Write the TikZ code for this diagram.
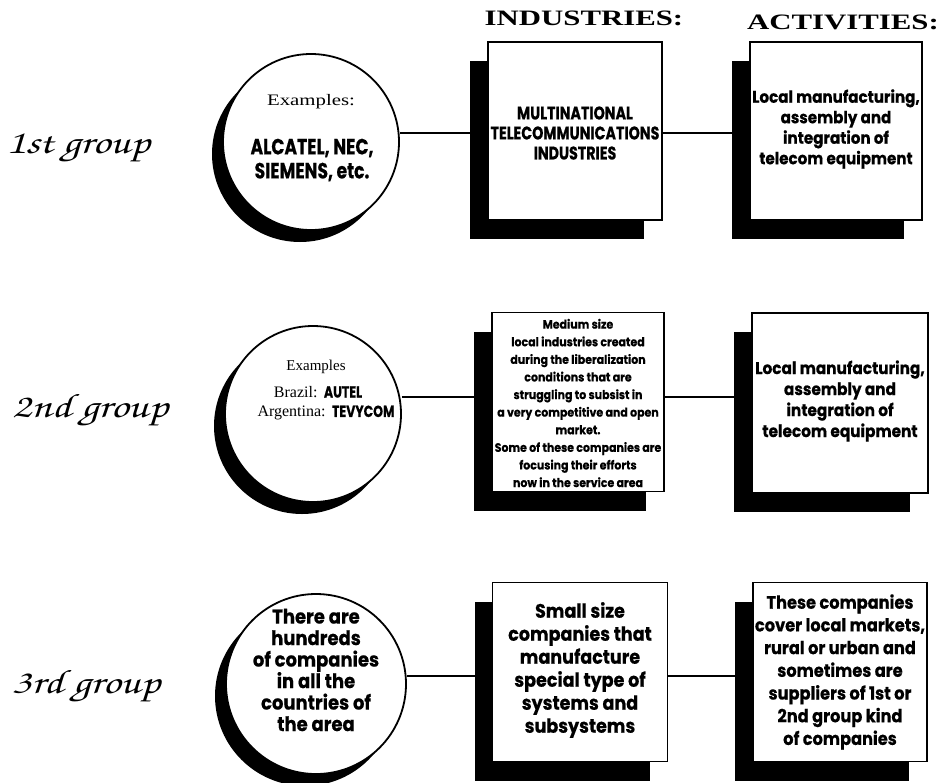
\documentclass[tikz,border=0pt]{standalone}
\usepackage{fontspec}
\usetikzlibrary{shadows}
\newfontfamily\cf[FakeStretch=0.78, BoldFeatures={FakeBold=0.5}]{Poppins}
\newfontfamily\cw[FakeStretch=0.9, BoldFeatures={FakeBold=0.5}]{Poppins}
\newfontfamily\lf{Liberation Serif}
\newfontfamily\lw[FakeStretch=1.3]{Liberation Serif}
\newfontfamily\hf[FakeStretch=1.4]{Liberation Serif}
\newfontfamily\gf[FakeStretch=1.3]{TeX Gyre Chorus}
\begin{document}
\begin{tikzpicture}[x=1pt,y=-1pt,
  conn/.style={line width=1.8pt},
  boxnode/.style={draw, line width=1.8pt, fill=white, inner sep=0pt, align=center,
    minimum width=174pt, minimum height=178pt,
    drop shadow={shadow xshift=-18pt, shadow yshift=-19pt, fill=black, opacity=1}},
  circnode/.style={circle, draw, line width=1.8pt, fill=white, minimum size=176pt, inner sep=0pt,
    drop shadow={shadow xshift=-11pt, shadow yshift=-12pt, fill=black, opacity=1}},
  lbl/.style={inner sep=0pt, align=center},
  grp/.style={inner sep=0pt, font=\gf\fontsize{34}{34}\selectfont},
  hdr/.style={inner sep=0pt, font=\hf\bfseries\fontsize{22}{22}\selectfont}
]
\useasboundingbox (0,0) rectangle (940,782);

% headers
\node[hdr] (hind) at (584,18) {INDUSTRIES:};
\node[hdr] (hact) at (843,22) {ACTIVITIES:};

% group labels
\node[grp] (g1) at (78,148) {1st group};
\node[grp] (g2) at (90,410) {2nd group};
\node[grp] (g3) at (86,686) {3rd group};

% row 1
\node[circnode] (c1) at (311,142) {};
\node[boxnode] (b1) at (575,131) {};
\node[boxnode, minimum width=172pt] (a1) at (836,131) {};
\node[lbl, font=\lw\fontsize{16}{16}\selectfont] (t1a) at (311,102) {Examples:};
\node[lbl, font=\cf\bfseries\fontsize{22}{24}\selectfont] (t1b) at (312,160) {ALCATEL, NEC,\\SIEMENS, etc.};
\node[lbl, font=\cf\bfseries\fontsize{18.3}{20}\selectfont] (t1c) at (575,133) {MULTINATIONAL\\TELECOMMUNICATIONS\\INDUSTRIES};
\node[lbl, font=\cw\bfseries\fontsize{16.8}{20.5}\selectfont] (t1d) at (836,129) {Local manufacturing,\\assembly and\\integration of\\telecom equipment};

% row 2
\node[circnode] (c2) at (313,414) {};
\node[boxnode, minimum width=172pt, minimum height=179pt] (b2) at (578,402) {};
\node[boxnode, minimum width=176pt, minimum height=180pt] (a2) at (840,403) {};
\node[lbl, font=\lf\fontsize{15}{15}\selectfont] (t2a) at (316,367) {Examples};
\node[lbl, font=\fontsize{16}{16}\selectfont] (t2b) at (318,392) {{\lf Brazil:} {\cf\bfseries AUTEL}};
\node[lbl, font=\fontsize{16}{16}\selectfont] (t2c) at (326,413) {{\lf Argentina:} {\cf\bfseries TEVYCOM}};
\node[lbl, font=\cw\bfseries\fontsize{12.2}{17.6}\selectfont] (t2d) at (578,403) {Medium size\\local industries created\\during the liberalization\\conditions that are\\struggling to subsist in\\a very competitive and open\\market.\\Some of these companies are\\focusing their efforts\\now in the service area};
\node[lbl, font=\cw\bfseries\fontsize{17}{21}\selectfont] (t2e) at (840,401) {Local manufacturing,\\assembly and\\integration of\\telecom equipment};

% row 3
\node[circnode, minimum size=180pt] (c3) at (316,684) {};
\node[boxnode, minimum width=175pt, minimum height=179pt] (b3) at (580,672) {};
\node[boxnode, minimum height=179pt] (a3) at (840,672) {};
\node[lbl, font=\cw\bfseries\fontsize{20}{21.5}\selectfont] (t3a) at (316,670) {There are\\hundreds\\of companies\\in all the\\countries of\\the area};
\node[lbl, font=\cw\bfseries\fontsize{19.5}{23}\selectfont] (t3b) at (580,670) {Small size\\companies that\\manufacture\\special type of\\systems and\\subsystems};
\node[lbl, font=\cw\bfseries\fontsize{18}{22.7}\selectfont] (t3c) at (840,672) {These companies\\cover local markets,\\rural or urban and\\sometimes are\\suppliers of 1st or\\2nd group kind\\of companies};

% connectors
\draw[conn] ([yshift=-2pt]c1.east |- b1.west) -- ([yshift=-2pt]b1.west);
\draw[conn] ([yshift=-2pt]b1.east) -- ([yshift=-2pt]a1.west);
\draw[conn] ([yshift=5pt]c2.east |- b2.west) -- ([yshift=5pt]b2.west);
\draw[conn] ([yshift=5pt]b2.east) -- ([yshift=6pt]a2.west);
\draw[conn] ([yshift=-4pt]c3.east |- b3.west) -- ([yshift=-4pt]b3.west);
\draw[conn] ([yshift=-4pt]b3.east) -- ([yshift=-4pt]a3.west);
\end{tikzpicture}
\end{document}
